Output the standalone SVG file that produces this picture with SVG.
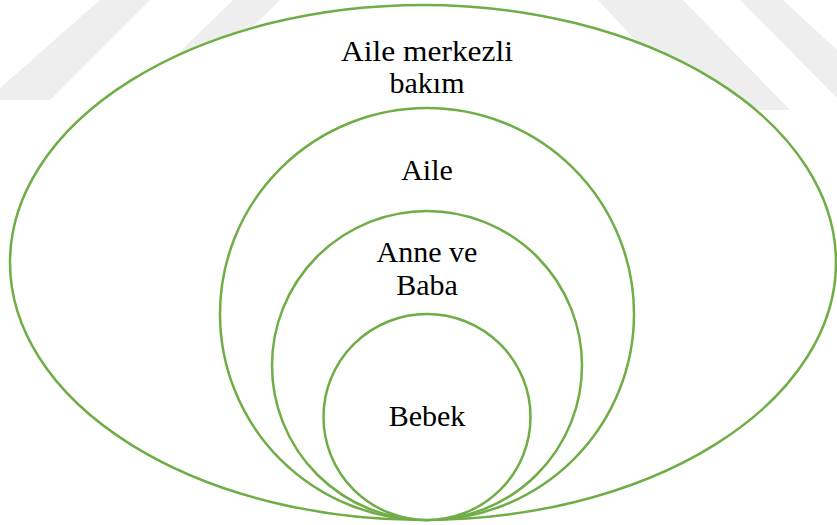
<svg xmlns="http://www.w3.org/2000/svg" width="837" height="525" viewBox="0 0 837 525">
  <style>
    .ring { fill: #ffffff; stroke: #70AD47; stroke-width: 2.5; }
    .lbl { font-family: "Liberation Serif", serif; font-size: 30px; fill: #000000; text-anchor: middle; }
    .wm { fill: #eeeeee; }
  </style>
  <rect x="0" y="0" width="837" height="525" fill="#ffffff"/>
  <g id="watermark">
    <polygon class="wm" points="0,88 100,0 150,0 50,100 0,100"/>
    <polygon class="wm" points="130,100 233,0 280,0 180,100"/>
    <polygon class="wm" points="598,0 683,0 790,110 700,110"/>
    <polygon class="wm" points="740,0 783,0 837,50 837,98"/>
  </g>
  <g id="node-aile-merkezli-bakim">
    <ellipse class="ring" cx="423" cy="262.5" rx="413" ry="257.5"/>
    <text class="lbl" x="427" y="61" textLength="172" lengthAdjust="spacingAndGlyphs">Aile merkezli</text>
    <text class="lbl" x="427" y="93">bakım</text>
  </g>
  <g id="node-aile">
    <ellipse class="ring" cx="427" cy="314" rx="207" ry="206"/>
    <text class="lbl" x="427" y="180">Aile</text>
  </g>
  <g id="node-anne-baba">
    <ellipse class="ring" cx="427" cy="365.5" rx="155" ry="154.5"/>
    <text class="lbl" x="427" y="262">Anne ve</text>
    <text class="lbl" x="427" y="295">Baba</text>
  </g>
  <g id="node-bebek">
    <ellipse class="ring" cx="427" cy="417" rx="103.5" ry="103"/>
    <text class="lbl" x="427" y="426">Bebek</text>
  </g>
  <g id="connectors"/>
</svg>
